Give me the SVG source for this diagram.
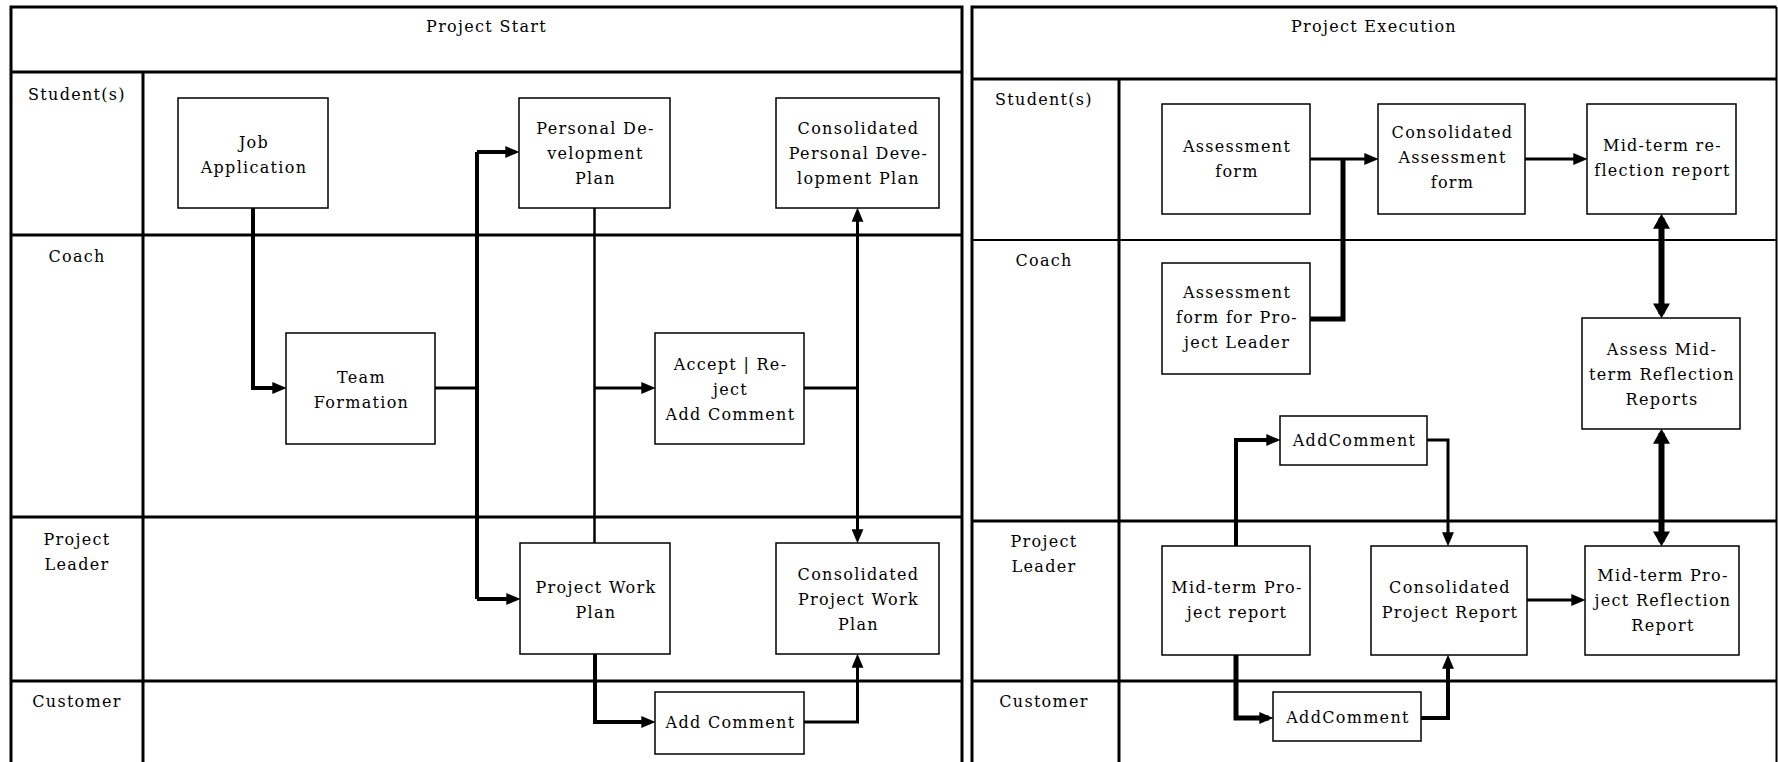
<svg xmlns="http://www.w3.org/2000/svg" width="1778" height="762" viewBox="0 0 1778 762">
<style>
text{font-family:"DejaVu Serif","Liberation Serif",serif;font-size:16px;letter-spacing:1.3px;fill:#000;text-anchor:middle}
.box{fill:#fff;stroke:#000;stroke-width:1.5}
.frame{fill:none;stroke:#000;stroke-width:3}
.thin{fill:none;stroke:#000;stroke-width:2}
.c2{fill:none;stroke:#000;stroke-width:2.5}
.c3{fill:none;stroke:#000;stroke-width:3}
.c4{fill:none;stroke:#000;stroke-width:4}
.c5{fill:none;stroke:#000;stroke-width:5}
.c6{fill:none;stroke:#000;stroke-width:6}
</style>
<defs>
<marker id="ah" markerUnits="userSpaceOnUse" markerWidth="14" markerHeight="12" viewBox="0 0 13 11" refX="9" refY="5.5" orient="auto-start-reverse"><path d="M0,0 L13,5.5 L0,11 z" fill="#000"/></marker>
<marker id="ahL" markerUnits="userSpaceOnUse" markerWidth="15" markerHeight="17" viewBox="0 0 14 16" refX="10" refY="8" orient="auto-start-reverse"><path d="M0,0 L14,8 L0,16 z" fill="#000"/></marker>
</defs>
<rect width="1778" height="762" fill="#fff"/>
<g id="panel-start">
<path class="frame" d="M11,762 V7 H962 V762"/>
<path class="frame" d="M11,72 H962 M143,72 V762 M11,235 H962 M11,517 H962 M11,681 H962"/>
<text x="486.5" y="32">Project Start</text>
<text x="77" y="100">Student(s)</text>
<text x="77" y="262">Coach</text>
<text x="77" y="545">Project</text>
<text x="77" y="570">Leader</text>
<text x="77" y="707">Customer</text>
</g>
<g id="panel-execution">
<path class="frame" d="M972,762 V7 H1776.5"/>
<path class="thin" d="M1776.5,7 V762"/>
<path class="frame" d="M972,79 H1777 M1119,79 V762 M972,521 H1777 M972,681 H1777"/>
<path class="thin" d="M972,240 H1777"/>
<text x="1374" y="32">Project Execution</text>
<text x="1044" y="105">Student(s)</text>
<text x="1044" y="266">Coach</text>
<text x="1044" y="547">Project</text>
<text x="1044" y="572">Leader</text>
<text x="1044" y="707">Customer</text>
</g>
<g id="connectors">
<path class="c4" d="M253,208 V388 H282" marker-end="url(#ah)"/>
<path class="c3" d="M435,388 H477"/>
<path class="c4" d="M477,152 V599"/>
<path class="c4" d="M477,152 H515" marker-end="url(#ah)"/>
<path class="c4" d="M477,599 H516" marker-end="url(#ah)"/>
<path class="c2" d="M594.5,208 V543"/>
<path class="c3" d="M594.5,388 H651" marker-end="url(#ah)"/>
<path class="c3" d="M804,388 H857.5"/>
<path class="c3" d="M857.5,212 V539" marker-start="url(#ah)" marker-end="url(#ah)"/>
<path class="c4" d="M595,654 V722 H651" marker-end="url(#ah)"/>
<path class="c3" d="M804,722 H857.5 V658" marker-end="url(#ah)"/>
<path class="c3" d="M1310,159 H1374" marker-end="url(#ah)"/>
<path class="c5" d="M1310,319 H1343 V159"/>
<path class="c3" d="M1525,159 H1583" marker-end="url(#ah)"/>
<path class="c6" d="M1661.5,218 V314" marker-start="url(#ahL)" marker-end="url(#ahL)"/>
<path class="c6" d="M1661.5,433 V542" marker-start="url(#ahL)" marker-end="url(#ahL)"/>
<path class="c4" d="M1236,546 V440 H1276" marker-end="url(#ah)"/>
<path class="c3" d="M1427,440 H1448 V542" marker-end="url(#ah)"/>
<path class="c5" d="M1236,655 V718 H1269" marker-end="url(#ah)"/>
<path class="c4" d="M1421,718 H1448 V659" marker-end="url(#ah)"/>
<path class="c3" d="M1527,600 H1581" marker-end="url(#ah)"/>
</g>
<g id="n-job"><rect class="box" x="178" y="98" width="150" height="110"/><text x="254" y="148">Job</text><text x="254" y="173">Application</text></g>
<g id="n-pdp"><rect class="box" x="519" y="98" width="151" height="110"/><text x="595.5" y="134">Personal De-</text><text x="595.5" y="159">velopment</text><text x="595.5" y="184">Plan</text></g>
<g id="n-cpdp"><rect class="box" x="776" y="98" width="163" height="110"/><text x="858.5" y="134">Consolidated</text><text x="858.5" y="159">Personal Deve-</text><text x="858.5" y="184">lopment Plan</text></g>
<g id="n-team"><rect class="box" x="286" y="333" width="149" height="111"/><text x="361.5" y="383">Team</text><text x="361.5" y="408">Formation</text></g>
<g id="n-accept"><rect class="box" x="655" y="333" width="149" height="111"/><text x="730.5" y="370">Accept | Re-</text><text x="730.5" y="395">ject</text><text x="730.5" y="420">Add Comment</text></g>
<g id="n-pwp"><rect class="box" x="520" y="543" width="150" height="111"/><text x="596" y="593">Project Work</text><text x="596" y="618">Plan</text></g>
<g id="n-cpwp"><rect class="box" x="776" y="543" width="163" height="111"/><text x="858.5" y="580">Consolidated</text><text x="858.5" y="605">Project Work</text><text x="858.5" y="630">Plan</text></g>
<g id="n-addc1"><rect class="box" x="655" y="692" width="149" height="62"/><text x="730.5" y="728">Add Comment</text></g>
<g id="n-af"><rect class="box" x="1162" y="104" width="148" height="110"/><text x="1237" y="152">Assessment</text><text x="1237" y="177">form</text></g>
<g id="n-caf"><rect class="box" x="1378" y="104" width="147" height="110"/><text x="1452.5" y="138">Consolidated</text><text x="1452.5" y="163">Assessment</text><text x="1452.5" y="188">form</text></g>
<g id="n-mtrr"><rect class="box" x="1587" y="104" width="149" height="110"/><text x="1662.5" y="151">Mid-term re-</text><text x="1662.5" y="176">flection report</text></g>
<g id="n-afpl"><rect class="box" x="1162" y="263" width="148" height="111"/><text x="1237" y="298">Assessment</text><text x="1237" y="323">form for Pro-</text><text x="1237" y="348">ject Leader</text></g>
<g id="n-amtrr"><rect class="box" x="1582" y="318" width="158" height="111"/><text x="1662" y="355">Assess Mid-</text><text x="1662" y="380">term Reflection</text><text x="1662" y="405">Reports</text></g>
<g id="n-addc2"><rect class="box" x="1280" y="416" width="147" height="49"/><text x="1354.5" y="446">AddComment</text></g>
<g id="n-mtpr"><rect class="box" x="1162" y="546" width="148" height="109"/><text x="1237" y="593">Mid-term Pro-</text><text x="1237" y="618">ject report</text></g>
<g id="n-cpr"><rect class="box" x="1371" y="546" width="156" height="109"/><text x="1450" y="593">Consolidated</text><text x="1450" y="618">Project Report</text></g>
<g id="n-mtprr"><rect class="box" x="1585" y="546" width="154" height="109"/><text x="1663" y="581">Mid-term Pro-</text><text x="1663" y="606">ject Reflection</text><text x="1663" y="631">Report</text></g>
<g id="n-addc3"><rect class="box" x="1273" y="692" width="148" height="49"/><text x="1348" y="723">AddComment</text></g>
</svg>
